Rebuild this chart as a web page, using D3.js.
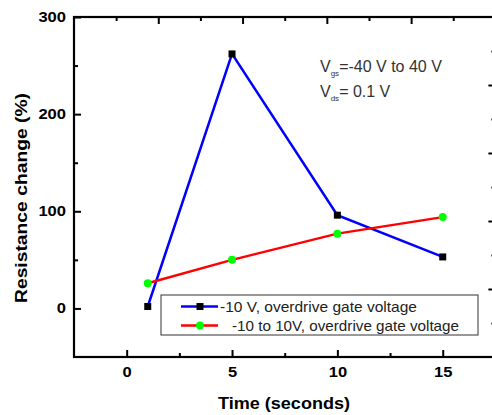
<!DOCTYPE html>
<html><head><meta charset="utf-8">
<script src="https://cdn.jsdelivr.net/npm/d3@7"></script>
<style>body{margin:0;background:#fff}svg{display:block}text{font-family:"Liberation Sans",Arial,sans-serif}</style>
</head><body><svg id="c" width="492" height="415"></svg>
<script>
const times = [1, 5, 10, 15];
const seriesA = [2, 262, 96, 53];     // -10 V, overdrive gate voltage
const seriesB = [26, 50, 77, 94];     // -10 to 10V, overdrive gate voltage
const seriesNames = ["-10 V, overdrive gate voltage", "-10 to 10V, overdrive gate voltage"];
const xTicks = [0, 5, 10, 15];
const xMinor = [2.5, 7.5, 12.5];
const yTicks = [0, 100, 200, 300];
const yMinor = [50, 150, 250];

const svg = d3.select("#c");
const L = 74, T = 17, B = 357;
const x = d3.scaleLinear().domain([-2.5, 17.5]).range([L, 495.4]);
const y = d3.scaleLinear().domain([-50, 300]).range([B, T]);
const R = x.range()[1];
const topS = d3.scaleLinear().domain([0, 10]).range([L, R]);
const rightS = d3.scaleLinear().domain([0, 10]).range([B, T]);

function ax(g, axis) { g.call(axis); g.select(".domain").remove(); g.selectAll(".tick line").attr("stroke", "#000").attr("stroke-width", 2); return g; }
function styleLabels(sel) {
  sel.selectAll("text").attr("font-size", 14).attr("font-weight", "bold").attr("fill", "#000")
    .attr("textLength", function () { return this.textContent.length * 9.2; })
    .attr("lengthAdjust", "spacingAndGlyphs");
}

// bottom
styleLabels(ax(svg.append("g").attr("transform", `translate(0,${B})`), d3.axisBottom(x).tickValues(xTicks).tickSize(-7).tickPadding(10).tickFormat(d3.format("d"))));
ax(svg.append("g").attr("transform", `translate(0,${B})`), d3.axisBottom(x).tickValues(xMinor).tickSize(-4).tickFormat(""));
// left
styleLabels(ax(svg.append("g").attr("transform", `translate(${L},0)`), d3.axisLeft(y).tickValues(yTicks).tickSize(-7).tickPadding(8).tickFormat(d3.format("d"))));
ax(svg.append("g").attr("transform", `translate(${L},0)`), d3.axisLeft(y).tickValues(yMinor).tickSize(-4).tickFormat(""));
// top
ax(svg.append("g").attr("transform", `translate(0,${T})`), d3.axisTop(topS).tickValues([2,4,6,8]).tickSize(-7).tickFormat(""));
ax(svg.append("g").attr("transform", `translate(0,${T})`), d3.axisTop(topS).tickValues([1,3,5,7,9]).tickSize(-4).tickFormat(""));
// right
ax(svg.append("g").attr("transform", `translate(${R},0)`), d3.axisRight(rightS).tickValues([2,4,6,8]).tickSize(-7).tickFormat(""));
ax(svg.append("g").attr("transform", `translate(${R},0)`), d3.axisRight(rightS).tickValues([1,3,5,7,9]).tickSize(-4).tickFormat(""));

// frame
svg.append("rect").attr("x", L).attr("y", T).attr("width", R - L).attr("height", B - T)
  .attr("fill", "none").attr("stroke", "#000").attr("stroke-width", 2.2);

// axis titles
svg.append("text").attr("x", 284).attr("y", 409).attr("text-anchor", "middle")
  .attr("font-size", 17).attr("font-weight", "bold").attr("textLength", 132).attr("lengthAdjust", "spacingAndGlyphs").text("Time (seconds)");
svg.append("text").attr("transform", "translate(27,198) rotate(-90)").attr("text-anchor", "middle")
  .attr("font-size", 17).attr("font-weight", "bold").attr("textLength", 210).attr("lengthAdjust", "spacingAndGlyphs").text("Resistance change (%)");

// lines
const line = d3.line().x((d, i) => x(times[i])).y(d => y(d));
svg.append("path").datum(seriesA).attr("d", line).attr("fill", "none").attr("stroke", "#0000ff").attr("stroke-width", 2.5);
svg.append("path").datum(seriesB).attr("d", line).attr("fill", "none").attr("stroke", "#ff0000").attr("stroke-width", 2.5);
svg.selectAll(".sq").data(seriesA).enter().append("rect")
  .attr("x", (d, i) => x(times[i]) - 3.5).attr("y", d => y(d) - 3.5).attr("width", 7).attr("height", 7).attr("fill", "#000");
svg.selectAll(".ci").data(seriesB).enter().append("circle")
  .attr("cx", (d, i) => x(times[i])).attr("cy", d => y(d)).attr("r", 4).attr("fill", "#00ff00");

// annotation
const ann = svg.append("g").attr("fill", "#333").attr("font-size", 16);
const t1 = ann.append("text").attr("x", 320).attr("y", 72);
t1.append("tspan").text("V");
t1.append("tspan").attr("font-size", 8).attr("dy", 4).text("gs");
t1.append("tspan").attr("dy", -4).text("=-40 V to 40 V");
const t2 = ann.append("text").attr("x", 320).attr("y", 97);
t2.append("tspan").text("V");
t2.append("tspan").attr("font-size", 8).attr("dy", 4).text("ds");
t2.append("tspan").attr("dy", -4).text("= 0.1 V");

// legend
const lg = svg.append("g");
lg.append("rect").attr("x", 161).attr("y", 295).attr("width", 317).attr("height", 40)
  .attr("fill", "#fff").attr("stroke", "#333").attr("stroke-width", 1);
const rows = [306.5, 325.5];
const cols = ["#0000ff", "#ff0000"];
const tx = [220, 232], tl = [197, 227];
rows.forEach((ry, i) => {
  lg.append("line").attr("x1", 181).attr("x2", 218).attr("y1", ry).attr("y2", ry).attr("stroke", cols[i]).attr("stroke-width", 2.5);
  if (i === 0) lg.append("rect").attr("x", 196.5).attr("y", ry - 3.5).attr("width", 7).attr("height", 7).attr("fill", "#000");
  else lg.append("circle").attr("cx", 200).attr("cy", ry).attr("r", 4).attr("fill", "#00ff00");
  lg.append("text").attr("x", tx[i]).attr("y", ry + 5.5).attr("font-size", 15).attr("fill", "#222")
    .attr("textLength", tl[i]).attr("lengthAdjust", "spacingAndGlyphs").text(seriesNames[i]);
});
</script></body></html>
